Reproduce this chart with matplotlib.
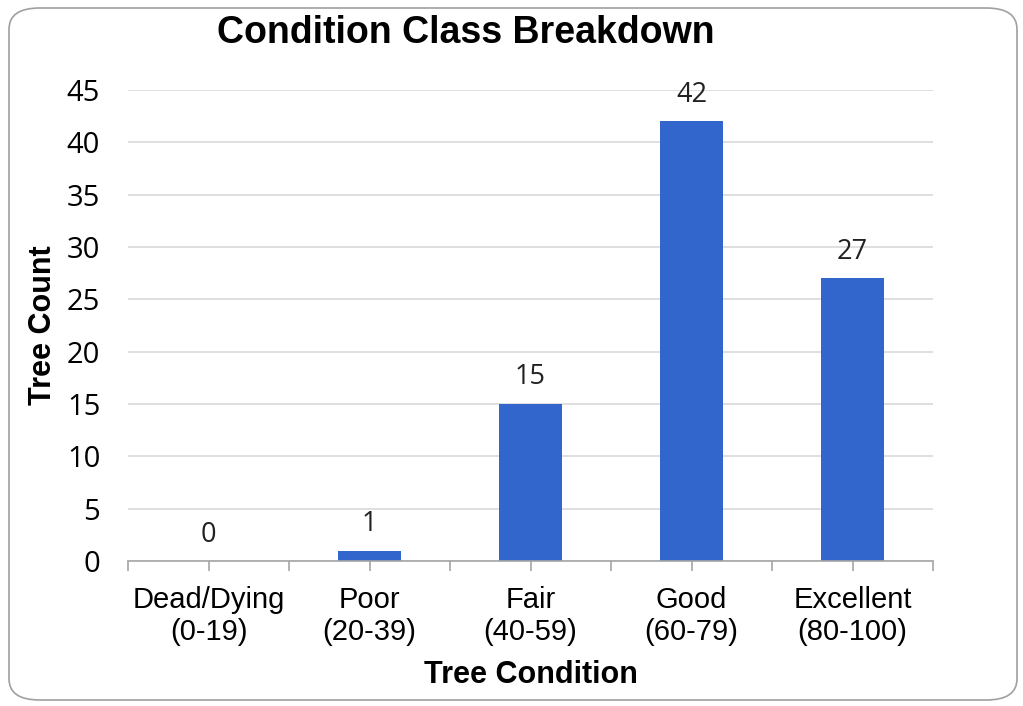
import matplotlib.pyplot as plt
from matplotlib.patches import FancyBboxPatch
from matplotlib.ticker import FixedLocator

# Данные
categories = ['Dead/Dying\n(0-19)', 'Poor\n(20-39)', 'Fair\n(40-59)', 'Good\n(60-79)', 'Excellent\n(80-100)']
counts = [0, 1, 15, 42, 27]
y_ticks = list(range(0, 50, 5))

bar_color = '#3366CC'
grid_color = '#D9D9D9'
axis_color = '#A6A6A6'

fig = plt.figure(figsize=(10.23, 7.06), dpi=100)
ax = fig.add_axes([128 / 1023, 1 - 561 / 706, (933 - 128) / 1023, (561 - 90) / 706])

x = list(range(len(categories)))
ax.bar(x, counts, width=0.39, color=bar_color, zorder=3)

# Подписи значений над столбцами
for xi, c in zip(x, counts):
    ax.annotate(str(c), (xi, c), xytext=(0, 9), textcoords='offset points',
                ha='center', va='bottom', fontsize=19.5, family='Open Sans', color='#222222')

ax.set_xlim(-0.5, len(categories) - 0.5)
ax.set_ylim(0, 45)
ax.set_yticks(y_ticks)
ax.yaxis.grid(True, color=grid_color, linewidth=1.2, zorder=0)
ax.set_axisbelow(True)

ax.set_xticks(x)
ax.set_xticklabels(categories, fontsize=21, family='Liberation Sans', linespacing=1.2)
ax.xaxis.set_minor_locator(FixedLocator([i - 0.5 for i in range(len(categories) + 1)]))
ax.tick_params(axis='x', which='both', direction='out', length=7, width=1.2,
               color=axis_color, pad=11)
ax.tick_params(axis='y', length=0, pad=20, labelsize=21)
for lbl in ax.get_yticklabels():
    lbl.set_family('Open Sans')

for side in ['top', 'right', 'left']:
    ax.spines[side].set_visible(False)
ax.spines['bottom'].set_color(axis_color)
ax.spines['bottom'].set_linewidth(1.2)
ax.spines['bottom'].set_zorder(4)

ax.set_xlabel('Tree Condition', fontsize=22, fontweight='bold', family='Liberation Sans', labelpad=10)
ax.set_ylabel('Tree Count', fontsize=22, fontweight='bold', family='Liberation Sans', labelpad=6.5)

fig.text(466 / 1023, 1 - 33 / 706, 'Condition Class Breakdown', ha='center', va='center',
         fontsize=27, fontweight='bold', family='Liberation Sans')

# Рамка с закруглёнными углами
border = FancyBboxPatch((9 / 1023, 6 / 706), 1008 / 1023, 692 / 706,
                        boxstyle='round,pad=0,rounding_size=0.03',
                        transform=fig.transFigure, facecolor='none',
                        edgecolor='#A0A0A0', linewidth=1.2)
fig.patches.append(border)

fig.savefig('out.png', dpi=100)
